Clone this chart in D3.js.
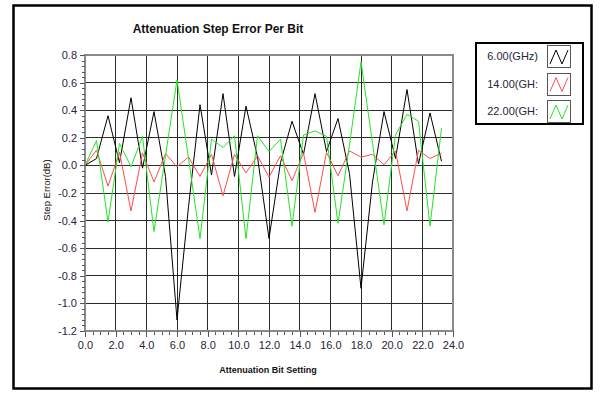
<!DOCTYPE html>
<html>
<head>
<meta charset="utf-8">
<script src="https://cdn.jsdelivr.net/npm/d3@7"></script>
<style>
  body { margin: 0; background: #fff; }
  svg { display: block; }
  text { font-family: 'Liberation Sans', Arial, sans-serif; }
</style>
</head>
<body>
<svg width="602" height="394"></svg>
<script>
// bit settings on the x axis
let bitSetting = [0, 0.75, 1.5, 2.25, 3, 3.75, 4.5, 5.25, 6, 6.75, 7.5, 8.25, 9, 9.75, 10.5, 11.25,
                  12, 12.75, 13.5, 14.25, 15, 15.75, 16.5, 17.25, 18, 18.75, 19.5, 20.25, 21, 21.75, 22.5, 23.25];

// step error (dB) per frequency
let err6GHz  = [0.0, 0.05, 0.36, 0.02, 0.49, -0.02, 0.39, -0.08, -1.12, -0.30, 0.44, -0.07, 0.52, -0.08, 0.43, 0.06,
                -0.53, 0.02, 0.32, 0.08, 0.52, 0.10, 0.34, -0.06, -0.89, -0.12, 0.39, 0.05, 0.55, 0.01, 0.38, 0.03];
let err14GHz = [0.0, 0.11, -0.15, 0.095, -0.33, 0.09, -0.12, 0.085, -0.01, 0.06, -0.08, 0.08, -0.22, 0.08, -0.055, 0.07,
                -0.085, 0.07, -0.11, 0.09, -0.34, 0.095, -0.075, 0.105, 0.06, 0.08, 0.005, 0.105, -0.33, 0.11, 0.05, 0.09];
let err22GHz = [0.0, 0.18, -0.41, 0.16, -0.01, 0.21, -0.48, 0.07, 0.62, 0.05, -0.53, 0.19, 0.13, 0.215, -0.53, 0.215,
                0.10, 0.19, -0.44, 0.22, 0.25, 0.21, -0.42, 0.15, 0.75, 0.16, -0.43, 0.22, 0.37, 0.32, -0.44, 0.27];

let seriesNames = ['6.00(GHz)', '14.00(GH:', '22.00(GH:'];
let xTickValues = [0, 2, 4, 6, 8, 10, 12, 14, 16, 18, 20, 22, 24];
let yTickValues = [0.8, 0.6, 0.4, 0.2, 0.0, -0.2, -0.4, -0.6, -0.8, -1.0, -1.2];

let seriesData = [err6GHz, err14GHz, err22GHz];
let seriesColors = ['#000000', '#ff4d4d', '#22e622'];

let svg = d3.select('svg');

// outer frame
svg.append('rect')
  .attr('x', 13.5).attr('y', 5.5)
  .attr('width', 578).attr('height', 383)
  .attr('fill', '#fff')
  .attr('stroke', '#000')
  .attr('stroke-width', 2.5);

let x = d3.scaleLinear().domain([0, 24]).range([85, 453]);
let y = d3.scaleLinear().domain([-1.2, 0.8]).range([331, 55]);

let fmt = function(d) { return d.toFixed(1); };

// grid
let grid = svg.append('g').attr('shape-rendering', 'crispEdges');
grid.selectAll('line.v')
  .data(xTickValues.slice(1, -1))
  .enter().append('line')
  .attr('x1', x).attr('x2', x)
  .attr('y1', y(0.8)).attr('y2', y(-1.2))
  .attr('stroke', '#2b2b2b');
grid.selectAll('line.h')
  .data(yTickValues.slice(1, -1))
  .enter().append('line')
  .attr('y1', y).attr('y2', y)
  .attr('x1', x(0)).attr('x2', x(24))
  .attr('stroke', '#2b2b2b');
grid.append('rect')
  .attr('x', x(0)).attr('y', y(0.8))
  .attr('width', x(24) - x(0)).attr('height', y(-1.2) - y(0.8))
  .attr('fill', 'none')
  .attr('stroke', '#8a8a8a')
  .attr('stroke-width', 1.5);

// axes
let xAxis = d3.axisBottom(x).tickValues(xTickValues).tickFormat(fmt).tickSize(6).tickSizeOuter(0);
let xMinor = d3.axisBottom(x).tickValues(d3.range(0.5, 24, 0.5).filter(function(d) { return d % 2 !== 0; }))
  .tickFormat('').tickSize(4).tickSizeOuter(0);
let yAxis = d3.axisLeft(y).tickValues(yTickValues).tickFormat(fmt).tickSize(5).tickSizeOuter(0);
let yMinor = d3.axisLeft(y).tickValues(d3.range(-1.16, 0.8, 0.04).filter(function(d) { return Math.abs(Math.round(d * 5) - d * 5) > 0.01; }))
  .tickFormat('').tickSize(3).tickSizeOuter(0);

function styleAxis(g) {
  g.attr('shape-rendering', 'crispEdges');
  g.select('.domain').attr('stroke', '#8a8a8a').attr('stroke-width', 1.5);
  g.selectAll('.tick line').attr('stroke', '#555');
  g.selectAll('.tick text')
    .attr('fill', '#262636')
    .style('font-size', '11px');
}

svg.append('g').attr('transform', 'translate(0,' + y(-1.2) + ')').call(xMinor).call(styleAxis);
svg.append('g').attr('transform', 'translate(0,' + y(-1.2) + ')').call(xAxis).call(styleAxis)
  .selectAll('.tick text').attr('dy', '0.85em');
svg.append('g').attr('transform', 'translate(' + x(0) + ',0)').call(yMinor).call(styleAxis);
svg.append('g').attr('transform', 'translate(' + x(0) + ',0)').call(yAxis).call(styleAxis);

// lines
let line = d3.line()
  .x(function(d, i) { return x(bitSetting[i]); })
  .y(function(d) { return y(d); });

svg.append('g')
  .selectAll('path')
  .data(seriesData)
  .enter().append('path')
  .attr('d', line)
  .attr('fill', 'none')
  .attr('stroke', function(d, i) { return seriesColors[i]; })
  .attr('stroke-width', 1);

// titles
svg.append('text')
  .attr('x', 218).attr('y', 33)
  .attr('text-anchor', 'middle')
  .attr('font-weight', 'bold')
  .style('font-size', '12px')
  .attr('fill', '#111')
  .text('Attenuation Step Error Per Bit');

svg.append('text')
  .attr('x', 268).attr('y', 373)
  .attr('text-anchor', 'middle')
  .attr('font-weight', 'bold')
  .style('font-size', '9px')
  .attr('fill', '#111')
  .text('Attenuation Bit Setting');

svg.append('text')
  .attr('transform', 'translate(50,190)rotate(-90)')
  .attr('text-anchor', 'middle')
  .style('font-size', '9.5px')
  .attr('fill', '#111')
  .text('Step Error(dB)');

// legend
let legend = svg.append('g');
legend.append('rect')
  .attr('x', 476).attr('y', 43)
  .attr('width', 107).attr('height', 81)
  .attr('fill', '#fff')
  .attr('stroke', '#000')
  .attr('stroke-width', 2);

let row = legend.selectAll('g.row')
  .data(seriesNames)
  .enter().append('g')
  .attr('transform', function(d, i) { return 'translate(0,' + (45 + i * 27.5) + ')'; });

row.append('text')
  .attr('x', 538).attr('y', 15)
  .attr('text-anchor', 'end')
  .style('font-size', '11px')
  .attr('fill', '#262636')
  .text(function(d) { return d; });

row.append('rect')
  .attr('x', 547.5).attr('y', 0.5)
  .attr('width', 23).attr('height', 22)
  .attr('fill', '#fff')
  .attr('stroke', '#555')
  .attr('shape-rendering', 'crispEdges');

row.append('polyline')
  .attr('points', '550,19 556,5 562,19 568,5')
  .attr('fill', 'none')
  .attr('stroke', function(d, i) { return seriesColors[i]; })
  .attr('stroke-width', 1);
</script>
</body>
</html>
